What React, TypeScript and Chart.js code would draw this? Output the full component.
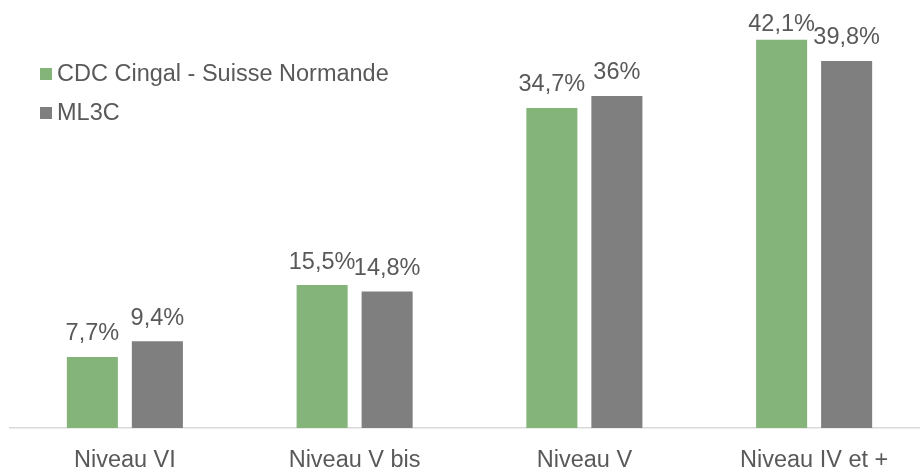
import React, { useEffect, useRef } from "react";
import { Chart, registerables } from "chart.js";

Chart.register(...registerables);

const categories = ["Niveau VI", "Niveau V bis", "Niveau V", "Niveau IV et +"];
const seriesNames = ["CDC Cingal - Suisse Normande", "ML3C"];
const cdcValues = [7.7, 15.5, 34.7, 42.1];
const ml3cValues = [9.4, 14.8, 36, 39.8];
const colors = ["#84B47A", "#7F7F7F"];

const FONT = "'Liberation Sans', Arial, sans-serif";
const TEXT = "#595959";

const fmt = (v: number) => String(v).replace(".", ",") + "%";

const overlay = {
  id: "overlay",
  afterDatasetsDraw(chart: any) {
    const ctx = chart.ctx;
    ctx.save();
    ctx.font = `23.5px ${FONT}`;
    ctx.fillStyle = TEXT;
    ctx.textAlign = "center";
    ctx.textBaseline = "middle";
    chart.data.datasets.forEach((ds: any, i: number) => {
      const meta = chart.getDatasetMeta(i);
      meta.data.forEach((bar: any, j: number) => {
        const y = Math.max(bar.y - 23, 25);
        ctx.fillText(fmt(ds.data[j]), bar.x, y);
      });
    });
    // legend
    ctx.textAlign = "left";
    const rows = [74, 113];
    seriesNames.forEach((name, i) => {
      ctx.fillStyle = colors[i];
      ctx.fillRect(40, rows[i] - 6, 12, 12);
      ctx.fillStyle = TEXT;
      ctx.fillText(name, 57, rows[i] + 1);
    });
    ctx.restore();
  },
};

export default function App() {
  const ref = useRef<HTMLCanvasElement | null>(null);
  useEffect(() => {
    document.body.style.margin = "0";
    document.body.style.overflow = "hidden";
    const chart = new Chart(ref.current!, {
      type: "bar",
      data: {
        labels: categories,
        datasets: [
          { label: seriesNames[0], data: cdcValues, backgroundColor: colors[0] },
          { label: seriesNames[1], data: ml3cValues, backgroundColor: colors[1] },
        ],
      },
      options: {
        animation: false,
        responsive: false,
        devicePixelRatio: 1,
        layout: { padding: { left: 10, right: 11, top: 0, bottom: 0 } },
        datasets: {
          bar: { categoryPercentage: 0.566, barPercentage: 0.785 },
        },
        plugins: {
          legend: { display: false },
          tooltip: { enabled: false },
        },
        scales: {
          x: {
            grid: { display: false, drawTicks: false },
            border: { display: true, color: "#D9D9D9", width: 1.5 },
            ticks: {
              color: TEXT,
              font: { family: FONT, size: 23.5 },
              padding: 18,
              maxRotation: 0,
            },
            afterFit(scale: any) {
              scale.height = 41;
            },
          },
          y: {
            display: false,
            min: 0,
            max: 46.4,
          },
        },
      },
      plugins: [overlay],
    } as any);
    return () => chart.destroy();
  }, []);
  return (
    <div style={{ width: 940, height: 469 }}>
      <canvas ref={ref} width={940} height={469} />
    </div>
  );
}
